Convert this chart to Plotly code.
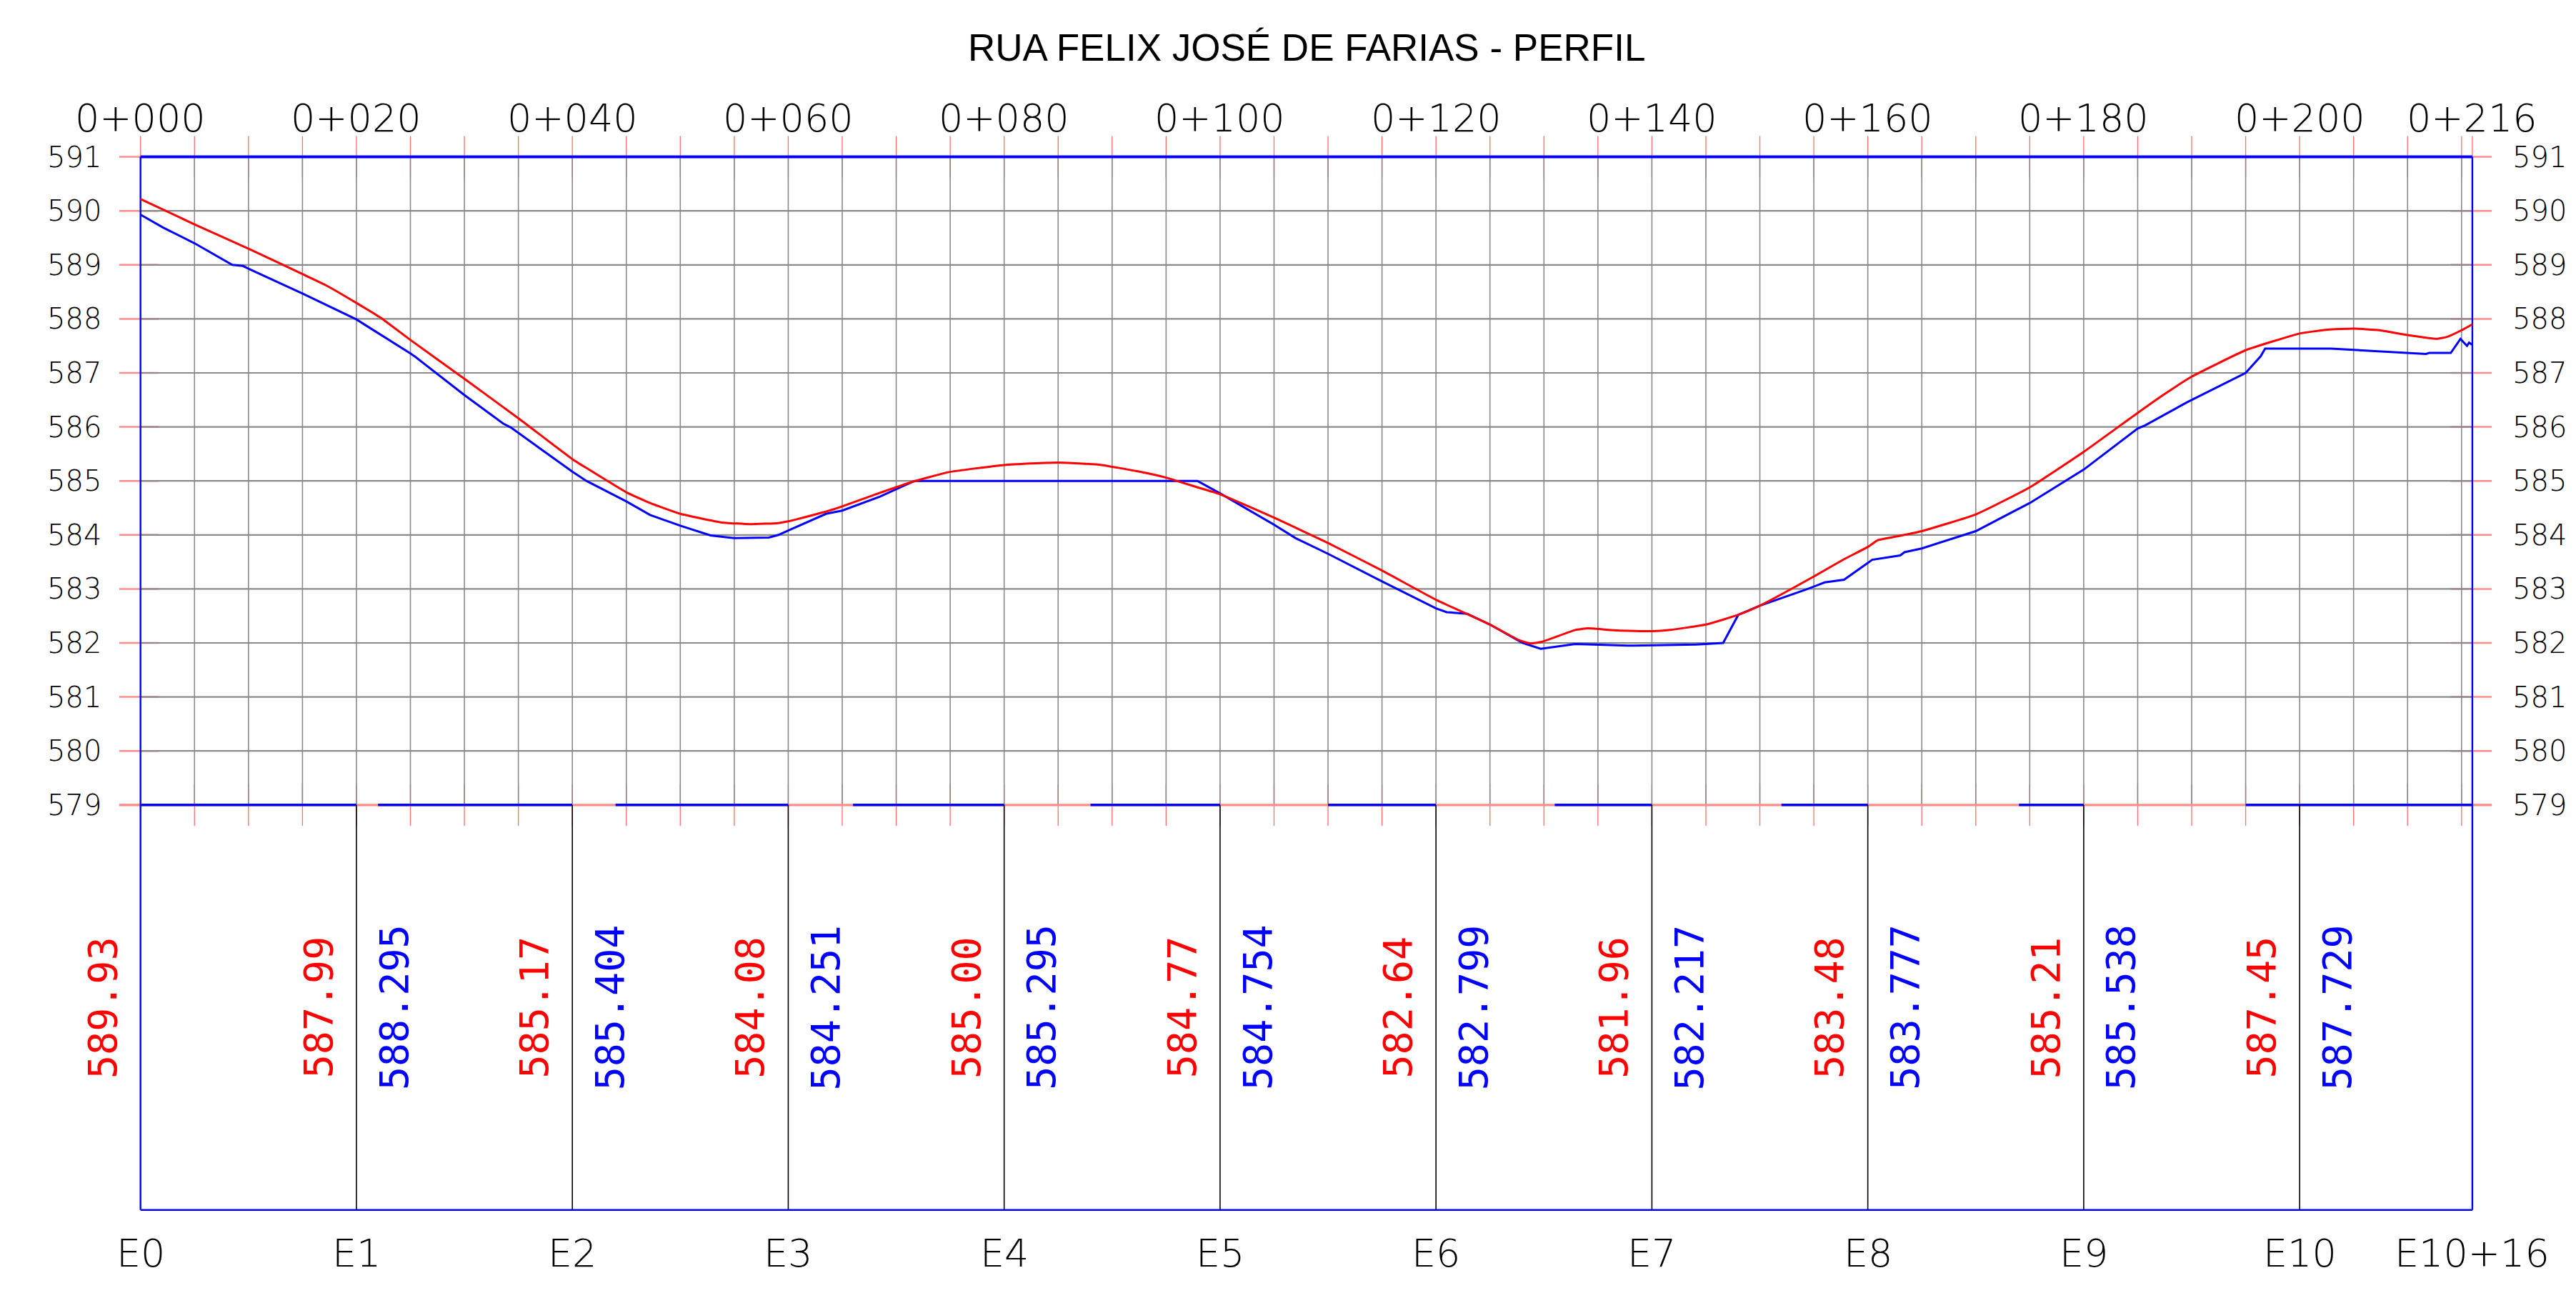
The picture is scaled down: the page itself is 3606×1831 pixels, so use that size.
import plotly.graph_objects as go

# ---------------- data ----------------
TITLE = "RUA FELIX JOSÉ DE FARIAS - PERFIL"
LENGTH = 216
GRID_STEP = 5
STATION_POS = [0, 20, 40, 60, 80, 100, 120, 140, 160, 180, 200, 216]
STATION_NAMES = ["E0", "E1", "E2", "E3", "E4", "E5", "E6", "E7", "E8", "E9", "E10", "E10+16"]
CHAINAGE_LABELS = ["0+000", "0+020", "0+040", "0+060", "0+080", "0+100", "0+120",
                   "0+140", "0+160", "0+180", "0+200", "0+216"]
ELEV_TICKS = list(range(579, 592))
ELEV_BASE = 579
ELEV_TOP = 591

TERRAIN_LABELS = ["589.93", "587.99", "585.17", "584.08", "585.00", "584.77",
                  "582.64", "581.96", "583.48", "585.21", "587.45"]
PROJECT_LABELS = ["", "588.295", "585.404", "584.251", "585.295", "584.754",
                  "582.799", "582.217", "583.777", "585.538", "587.729"]

terrain_x = [0, 2.1, 5, 8.5, 9.5, 10, 15, 20, 25, 25.5, 30, 33.6, 34.3, 40, 41.3, 45, 47.2,
             50, 52.8, 55, 58.2, 59.1, 60, 63.5, 65, 68.5, 71.7, 80, 97.9, 100, 105, 107,
             110, 115, 120, 121, 122.9, 125, 128, 129.7, 132.9, 137.8, 140, 144.1, 146.6,
             148, 150, 154.3, 156, 157.8, 160, 160.4, 163, 163.4, 165, 169.3, 170, 175,
             180, 185, 185.7, 189.6, 195, 196.4, 196.8, 200, 202.9, 211.7, 212, 214,
             214.9, 215.5, 215.7, 216]
terrain_z = [589.93, 589.69, 589.40, 589.00, 588.98, 588.93, 588.47, 587.99, 587.36, 587.29,
             586.59, 586.06, 585.99, 585.17, 585.00, 584.62, 584.37, 584.17, 583.99, 583.94,
             583.95, 584.00, 584.08, 584.39, 584.45, 584.71, 585.00, 585.00, 585.00, 584.77,
             584.19, 583.94, 583.65, 583.14, 582.64, 582.57, 582.54, 582.34, 582.00, 581.89,
             581.98, 581.95, 581.96, 581.97, 582.00, 582.52, 582.69, 582.99, 583.12, 583.17,
             583.48, 583.54, 583.62, 583.68, 583.75, 584.03, 584.07, 584.59, 585.21, 585.97,
             586.03, 586.46, 587.00, 587.31, 587.45, 587.45, 587.45, 587.35, 587.37, 587.37,
             587.63, 587.50, 587.56, 587.52]

project_x = [0, 5, 10, 15, 17.1, 20, 22.4, 25, 30, 35, 40, 41.3, 45, 47.2, 50, 53.85, 56.5,
             59.1, 60, 60.8, 64.3, 67.8, 71.3, 74.8, 80, 85, 88.8, 92.3, 95, 97.6, 100, 105,
             108.1, 110, 115, 120, 125, 127.7, 128.7, 129.8, 132.9, 134.1, 136.8, 140, 141.7,
             145, 148, 150, 155, 157.8, 160, 160.9, 162.9, 165, 170, 175, 180, 185, 187.5,
             190, 195, 200, 202.6, 205, 207.4, 210, 212.7, 213.7, 215, 216]
project_z = [590.22, 589.75, 589.30, 588.83, 588.63, 588.295, 588.00, 587.61, 586.89, 586.16,
             585.404, 585.24, 584.79, 584.59, 584.39, 584.23, 584.20, 584.22, 584.251, 584.29,
             584.48, 584.73, 584.97, 585.16, 585.295, 585.34, 585.30, 585.18, 585.06, 584.90,
             584.754, 584.32, 584.03, 583.85, 583.34, 582.799, 582.34, 582.05, 581.99, 582.02,
             582.24, 582.27, 582.23, 582.217, 582.24, 582.34, 582.52, 582.69, 583.23, 583.55,
             583.777, 583.90, 583.98, 584.07, 584.38, 584.88, 585.538, 586.26, 586.61, 586.93,
             587.42, 587.729, 587.80, 587.82, 587.79, 587.70, 587.63, 587.67, 587.79, 587.90]

DATUM_SEGMENTS = [(0, 20), (22, 40), (44, 60), (66, 80), (88, 100), (110, 120),
                  (131, 140), (152, 160), (174, 180), (195, 216)]

# ---------------- geometry / style ----------------
W, H = 3606, 1831
# the page body adds an 8 px offset; ranges compensate for it
X_RANGE = [-12.487, 226.13]
Y_RANGE = [569.579, 593.799]
BAND_BOTTOM = 571.50
TOP_LABEL_Y = 591.72
STATION_LABEL_Y = 570.70
VALUE_Y = 575.25
VALUE_OFFSET = 3.5
LEFT_LABEL_X = -6.13
RIGHT_LABEL_X = 222.2
TICK_HALF = 0.385

BLUE = "#0000ff"
RED = "#ff0000"
GRID = "#8a8a8a"
PINK = "#ff8c8c"

LABEL_FONT = "DejaVu Sans"
VALUE_FONT = "DejaVu Sans Mono"
TITLE_FONT = "Liberation Sans, Arial, sans-serif"


def seg_trace(segs, color, width):
    xs, ys = [], []
    for (x0, y0, x1, y1) in segs:
        xs += [x0, x1, None]
        ys += [y0, y1, None]
    return go.Scatter(x=xs, y=ys, mode="lines", line=dict(color=color, width=width),
                      hoverinfo="skip", showlegend=False)


fig = go.Figure()

grid_x = list(range(GRID_STEP, LENGTH, GRID_STEP))
tick_x = list(range(0, LENGTH, GRID_STEP)) + [LENGTH]

# red station ticks at top and bottom of the profile window
fig.add_trace(seg_trace([(x, ELEV_TOP - TICK_HALF, x, ELEV_TOP + TICK_HALF) for x in tick_x],
                        "rgba(255,60,60,0.75)", 1.3))
fig.add_trace(seg_trace([(x, ELEV_BASE - TICK_HALF, x, ELEV_BASE + TICK_HALF) for x in tick_x],
                        "rgba(255,60,60,0.75)", 1.3))
# pink elevation ticks left/right
fig.add_trace(seg_trace([(-1.97, z, 1.67, z) for z in ELEV_TICKS], PINK, 2.5))
fig.add_trace(seg_trace([(214.0, z, 217.8, z) for z in ELEV_TICKS], PINK, 2.5))

# gray grid
fig.add_trace(seg_trace([(x, ELEV_BASE, x, ELEV_TOP) for x in grid_x], GRID, 1.6))
fig.add_trace(seg_trace([(0, z, LENGTH, z) for z in ELEV_TICKS if ELEV_BASE < z < ELEV_TOP],
                        GRID, 2.2))

# datum line (pink) with blue segments
fig.add_trace(seg_trace([(-1.97, ELEV_BASE, 217.8, ELEV_BASE)], PINK, 3.2))
fig.add_trace(seg_trace([(a, ELEV_BASE, b, ELEV_BASE) for a, b in DATUM_SEGMENTS], BLUE, 3.6))

# lower band separators
fig.add_trace(seg_trace([(x, ELEV_BASE, x, BAND_BOTTOM) for x in STATION_POS[1:-1]],
                        "#000000", 1.6))
# frame
fig.add_trace(seg_trace([(0, ELEV_TOP, LENGTH, ELEV_TOP)], BLUE, 4))
fig.add_trace(seg_trace([(0, ELEV_TOP, 0, BAND_BOTTOM), (LENGTH, ELEV_TOP, LENGTH, BAND_BOTTOM),
                         (0, BAND_BOTTOM, LENGTH, BAND_BOTTOM)], BLUE, 2.4))

# profiles
fig.add_trace(go.Scatter(x=terrain_x, y=terrain_z, mode="lines",
                         line=dict(color=BLUE, width=3), showlegend=False, name="Terreno"))
fig.add_trace(go.Scatter(x=project_x, y=project_z, mode="lines",
                         line=dict(color=RED, width=3, shape="spline", smoothing=0.4),
                         showlegend=False, name="Greide"))

ann = []
ann.append(dict(x=LENGTH / 2, y=593.03, text=TITLE, showarrow=False, xref="x", yref="y",
                xanchor="center", yanchor="middle",
                font=dict(family=TITLE_FONT, size=53, color="#000000")))
for pos, lab in zip(STATION_POS, CHAINAGE_LABELS):
    ann.append(dict(x=pos, y=TOP_LABEL_Y, text=lab, showarrow=False, xref="x", yref="y",
                    xanchor="center", yanchor="middle",
                    font=dict(family=LABEL_FONT, size=54, color="#000000", weight=200)))
for pos, lab in zip(STATION_POS, STATION_NAMES):
    ann.append(dict(x=pos, y=STATION_LABEL_Y, text=lab, showarrow=False, xref="x", yref="y",
                    xanchor="center", yanchor="middle",
                    font=dict(family=LABEL_FONT, size=54, color="#000000", weight=200)))
for z in ELEV_TICKS:
    for xx in (LEFT_LABEL_X, RIGHT_LABEL_X):
        ann.append(dict(x=xx, y=z, text=str(z), showarrow=False, xref="x", yref="y",
                        xanchor="center", yanchor="middle",
                        font=dict(family=LABEL_FONT, size=40, color="#000000", weight=200)))
for pos, t, p in zip(STATION_POS, TERRAIN_LABELS, PROJECT_LABELS):
    ann.append(dict(x=pos - VALUE_OFFSET, y=VALUE_Y, text=t, showarrow=False, xref="x", yref="y",
                    textangle=-90, xanchor="center", yanchor="middle",
                    font=dict(family=VALUE_FONT, size=55, color=RED)))
    if p:
        ann.append(dict(x=pos + VALUE_OFFSET, y=VALUE_Y, text=p, showarrow=False, xref="x",
                        yref="y", textangle=-90, xanchor="center", yanchor="middle",
                        font=dict(family=VALUE_FONT, size=55, color=BLUE)))

fig.update_layout(
    width=W, height=H,
    margin=dict(l=0, r=0, t=0, b=0, pad=0),
    paper_bgcolor="white", plot_bgcolor="white",
    xaxis=dict(range=X_RANGE, visible=False, showgrid=False, zeroline=False, fixedrange=True),
    yaxis=dict(range=Y_RANGE, visible=False, showgrid=False, zeroline=False, fixedrange=True),
    annotations=ann,
    showlegend=False,
)

fig.write_html("out.html")
